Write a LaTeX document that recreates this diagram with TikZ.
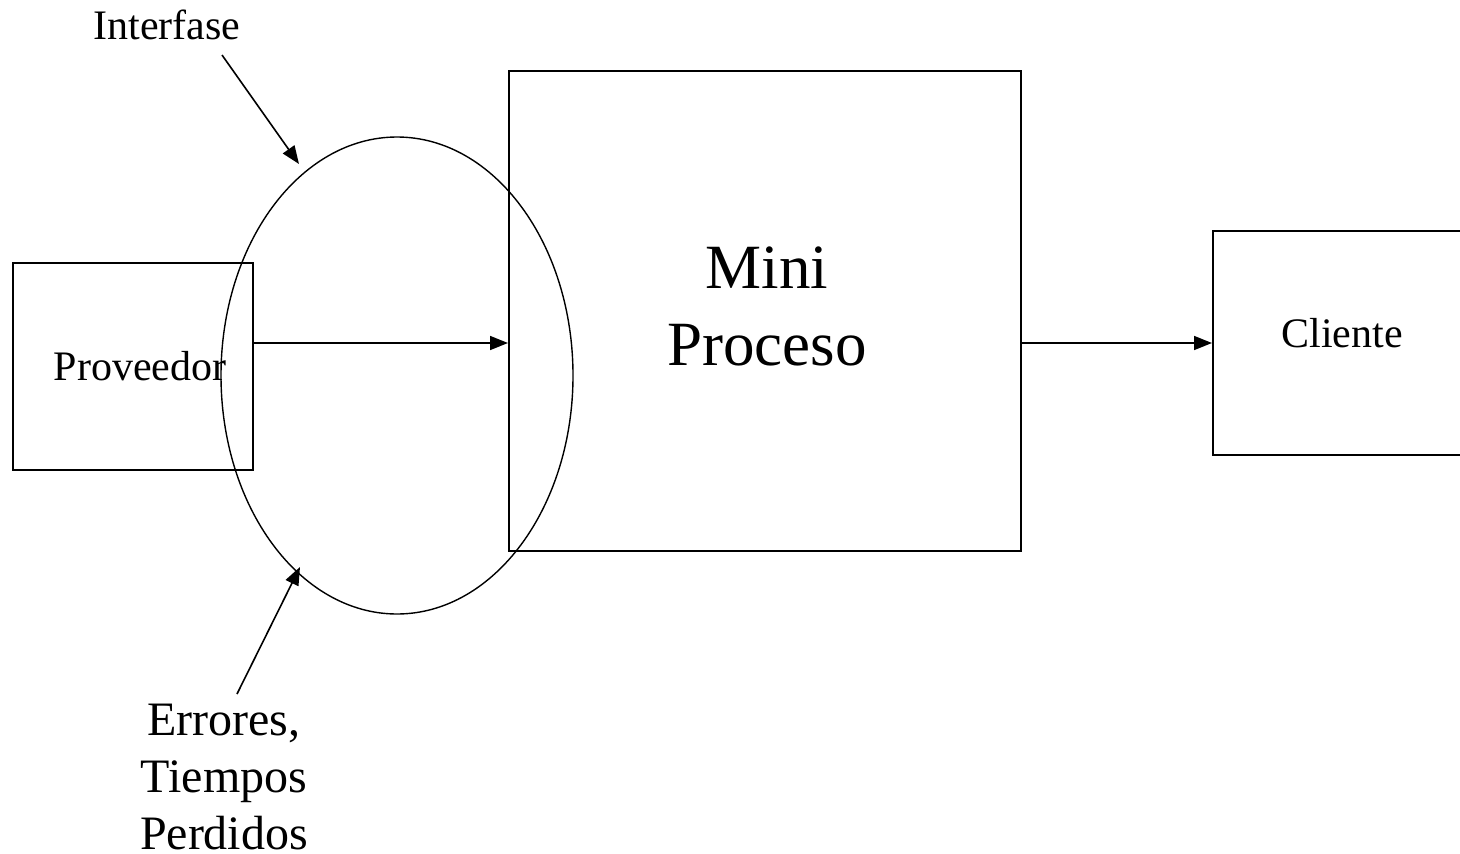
\documentclass[tikz,border=0pt]{standalone}
\usepackage{fontspec}
\setmainfont{Liberation Serif}
\usetikzlibrary{arrows.meta,shapes.geometric}
\begin{document}
\begin{tikzpicture}[x=1pt,y=-1pt,
  box/.style={draw,line width=2pt,inner sep=0pt},
  conn/.style={line width=1.6pt,-{Triangle[length=18pt,width=14pt]}},
  small/.style={font=\fontsize{42}{50}\selectfont},
]
\useasboundingbox (0,0) rectangle (1460,854);
% boxes
\node[box,minimum width=240pt,minimum height=207pt] (prov) at (133,366.5) {};
\node[small] at (140,366) {Proveedor};
\node[box,minimum width=512pt,minimum height=480pt] (mini) at (765,311) {};
\node[font=\fontsize{63}{77}\selectfont,align=center] (minit) at (767,306) {Mini\\Proceso};
\node[box,minimum width=270pt,minimum height=224pt] (cli) at (1348,343) {};
\node[small] at (1342,333) {Cliente};
% ellipse
\node[draw,line width=1.4pt,ellipse,minimum width=352pt,minimum height=477pt,inner sep=0pt] (ell) at (397,375.5) {};
% labels
\node[small] (inter) at (167,25) {Interfase};
\node[font=\fontsize{48}{57}\selectfont,align=center] (err) at (224,777) {Errores,\\Tiempos\\Perdidos};
\coordinate (i1) at (222,55);
\coordinate (i2) at (299,164);
\coordinate (e1) at (237,694);
\coordinate (e2) at (300,567);
% connectors
\draw[conn] (prov.east |- 0,343) -- (mini.west |- 0,343);
\draw[conn] (mini.east |- 0,343) -- (cli.west |- 0,343);
\draw[conn] (i1) -- (i2);
\draw[conn] (e1) -- (e2);
\end{tikzpicture}
\end{document}
